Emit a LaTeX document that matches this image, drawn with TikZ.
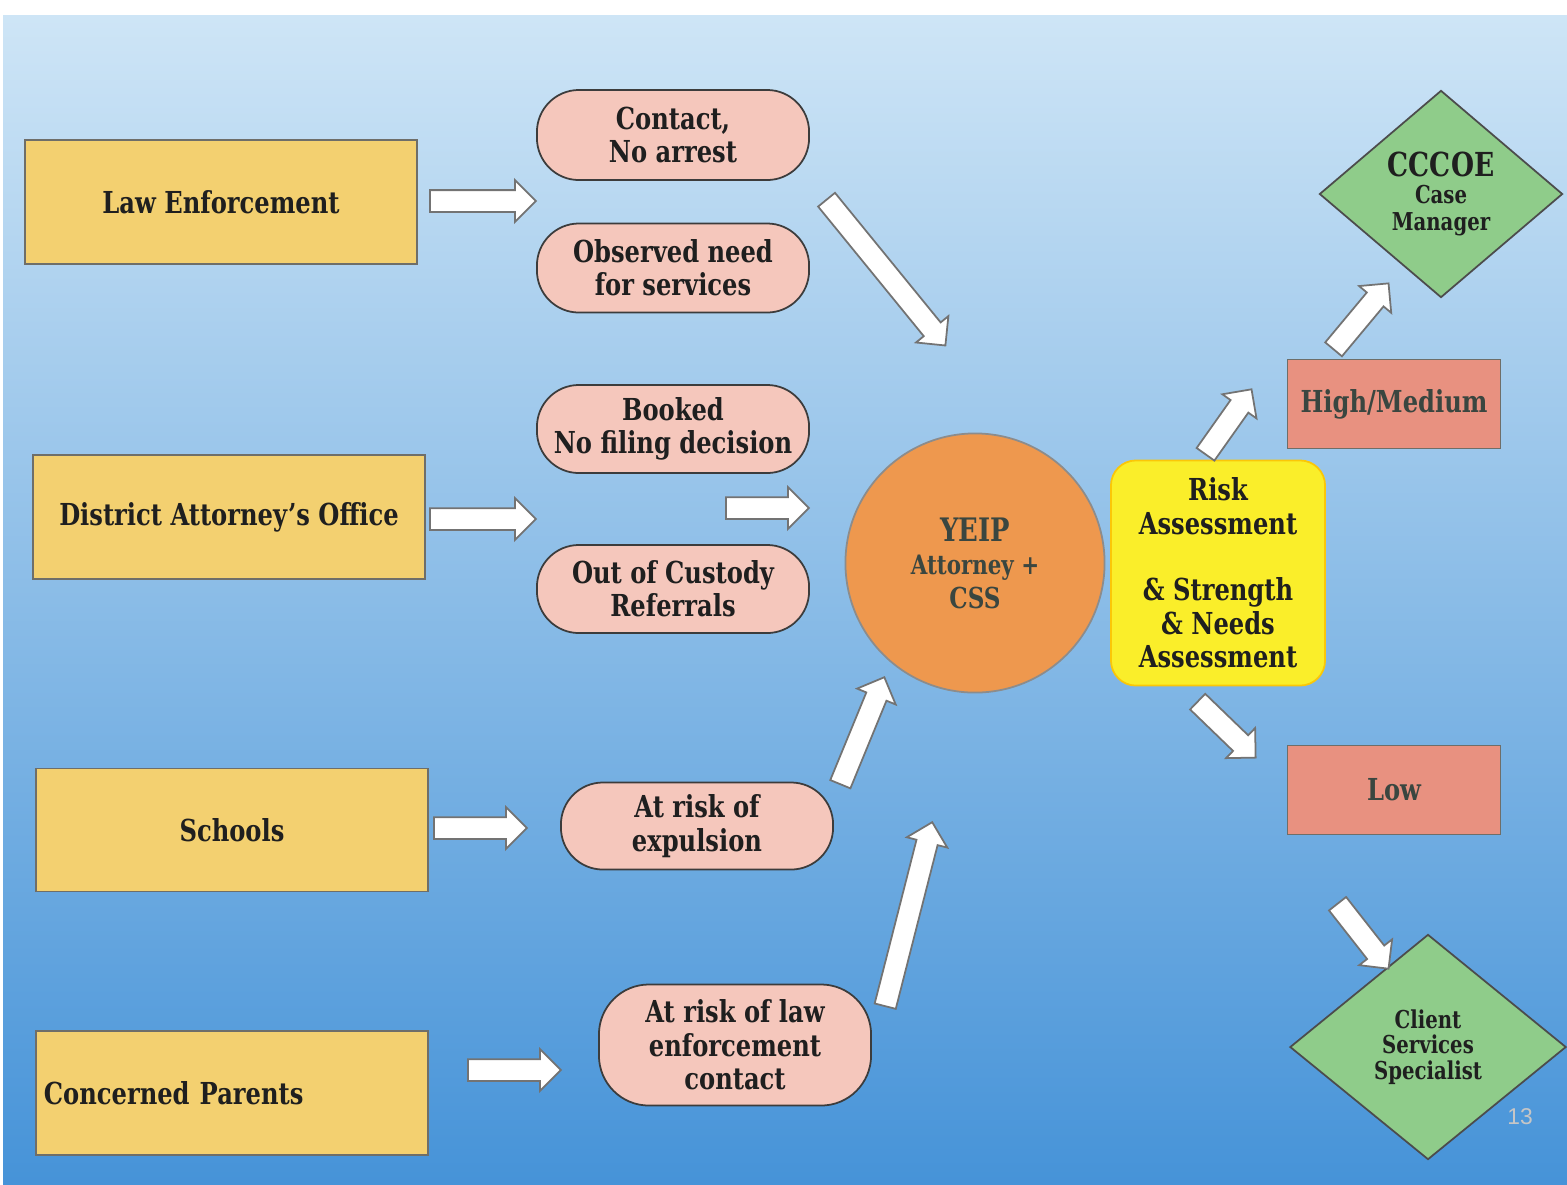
\documentclass[tikz,border=0pt]{standalone}
\usepackage{fontspec}
\setmainfont{DejaVu Serif}[FakeStretch=0.8]
\newfontfamily\pagefont{Liberation Sans}
\usetikzlibrary{shapes,arrows,calc}

\definecolor{bgtop}{RGB}{206,229,246}
\definecolor{bgbottom}{RGB}{70,147,216}
\definecolor{boxyellow}{RGB}{243,208,112}
\definecolor{boxedge}{RGB}{110,110,105}
\definecolor{pillpink}{RGB}{245,199,188}
\definecolor{pilledge}{RGB}{60,60,60}
\definecolor{yeiporange}{RGB}{238,152,78}
\definecolor{riskyellow}{RGB}{250,238,42}
\definecolor{levelred}{RGB}{232,145,128}
\definecolor{staffgreen}{RGB}{143,204,138}
\definecolor{darktext}{RGB}{58,70,64}
\definecolor{arrowedge}{RGB}{115,115,115}

\begin{document}
\begin{tikzpicture}[x=0.01cm, y=-0.01cm,
  font=\bfseries\fontsize{8.6}{9.5}\selectfont, text=black!88,
  source/.style={shape=rectangle, draw=boxedge, fill=boxyellow, line width=0.5pt, inner sep=0, minimum width=3.92cm, minimum height=1.24cm},
  referral/.style={shape=rectangle, rounded corners=0.42cm, draw=pilledge, fill=pillpink, line width=0.5pt, inner sep=0, minimum width=2.72cm, minimum height=0.88cm, align=center},
  level/.style={shape=rectangle, draw=boxedge, fill=levelred, line width=0.5pt, inner sep=0, minimum width=2.13cm, minimum height=0.89cm, text=darktext},
  staff/.style={shape=diamond, draw=black!70, fill=staffgreen, line width=0.5pt, inner sep=0, align=center},
  arrowshape/.style={single arrow, draw=arrowedge, fill=white, line width=0.5pt, inner xsep=0, inner ysep=0.1cm, single arrow head extend=0.1cm, single arrow tip angle=90, single arrow head indent=0, anchor=tail},
  blockarrow/.style={to path={
    let \p1=(\tikztostart), \p2=(\tikztotarget),
        \n1={atan2(\y2-\y1,\x2-\x1)}, \n2={veclen(\x2-\x1,\y2-\y1)} in
    node[arrowshape, minimum height=\n2, rotate=\n1] at (\p1) {}
  }}
]
\useasboundingbox (0,0) rectangle (1567,1184);
\fill[white] (0,0) rectangle (1567,1184);
\shade[top color=bgtop, bottom color=bgbottom] (3,15) rectangle (1567,1184);

% sources
\node (le) at (221,202) [source] {Law Enforcement};
\node (da) at (229,517) [source] {District Attorney’s Office};
\node (sch) at (232,830) [source, minimum height=1.23cm] {Schools};
\node (par) at (232,1093) [source, text width=3.76cm, inner xsep=0.08cm, align=left] {Concerned Parents};

% referral types
\node (contact) at (673,135) [referral, minimum height=0.9cm] {Contact,\\No arrest};
\node (observed) at (673,268) [referral, minimum height=0.89cm] {Observed need\\for services};
\node (booked) at (673,429) [referral] {Booked\\No filing decision};
\node (custody) at (673,589) [referral] {Out of Custody\\Referrals};
\node (expulsion) at (697,826) [referral, minimum height=0.87cm] {At risk of\\expulsion};
\node (lecontact) at (735,1045) [referral, minimum height=1.21cm, rounded corners=0.5cm] {At risk of law\\enforcement\\contact};

% program
\node (yeip) at (975,563) [shape=circle, draw=black!45, fill=yeiporange, line width=0.5pt, inner sep=0, minimum size=2.59cm, align=center, text=darktext]
  {\fontsize{9.2}{9.5}\selectfont YEIP\\\fontsize{7.6}{9.5}\selectfont Attorney +\\\fontsize{8.2}{9.5}\selectfont CSS};
\node (risk) at (1218,573) [shape=rectangle, rounded corners=0.25cm, draw=yellow!60!orange, fill=riskyellow, line width=0.5pt, inner sep=0, minimum width=2.14cm, minimum height=2.25cm, align=center]
  {Risk\\Assessment\\~\\\& Strength\\\& Needs\\Assessment};

% outcomes
\node (high) at (1394,404) [level] {High/Medium};
\node (low) at (1394,790) [level] {Low};
\node (cccoe) at (1441,194) [staff, minimum width=2.43cm, minimum height=2.07cm, font=\bfseries\fontsize{7}{7.6}\selectfont]
  {{\fontsize{9.4}{9}\selectfont CCCOE}\\Case\\Manager};
\node (css) at (1428,1047) [staff, minimum width=2.76cm, minimum height=2.25cm, font=\bfseries\fontsize{7}{7.2}\selectfont]
  {Client\\Services\\Specialist};
\node (page) at (1520,1117) [text=gray!45, font=\pagefont\fontsize{6.5}{7}\selectfont] {13};

% arrow ends
\coordinate (le-a) at (429,201);   \coordinate (le-b) at (535,201);
\coordinate (obs-a) at (826,199);  \coordinate (obs-b) at (945,345);
\coordinate (da-a) at (429,519);   \coordinate (da-b) at (535,519);
\coordinate (bk-a) at (725,508);   \coordinate (bk-b) at (808,508);
\coordinate (sc-a) at (433,828);   \coordinate (sc-b) at (526,828);
\coordinate (ex-a) at (840,785);   \coordinate (ex-b) at (884,678);
\coordinate (pa-a) at (467,1070);  \coordinate (pa-b) at (560,1070);
\coordinate (lc-a) at (885,1007);  \coordinate (lc-b) at (932,823);
\coordinate (hi-a) at (1205,455);  \coordinate (hi-b) at (1251,390);
\coordinate (cm-a) at (1333,350);  \coordinate (cm-b) at (1388,284);
\coordinate (lo-a) at (1197,701);  \coordinate (lo-b) at (1255,757);
\coordinate (cs-a) at (1337,903);  \coordinate (cs-b) at (1388,968);

\path [blockarrow] (le-a) to (le-b);
\path [blockarrow] (obs-a) to (obs-b);
\path [blockarrow] (da-a) to (da-b);
\path [blockarrow] (bk-a) to (bk-b);
\path [blockarrow] (sc-a) to (sc-b);
\path [blockarrow] (ex-a) to (ex-b);
\path [blockarrow] (pa-a) to (pa-b);
\path [blockarrow] (lc-a) to (lc-b);
\path [blockarrow] (hi-a) to (hi-b);
\path [blockarrow] (cm-a) to (cm-b);
\path [blockarrow] (lo-a) to (lo-b);
\path [blockarrow] (cs-a) to (cs-b);
\end{tikzpicture}
\end{document}
